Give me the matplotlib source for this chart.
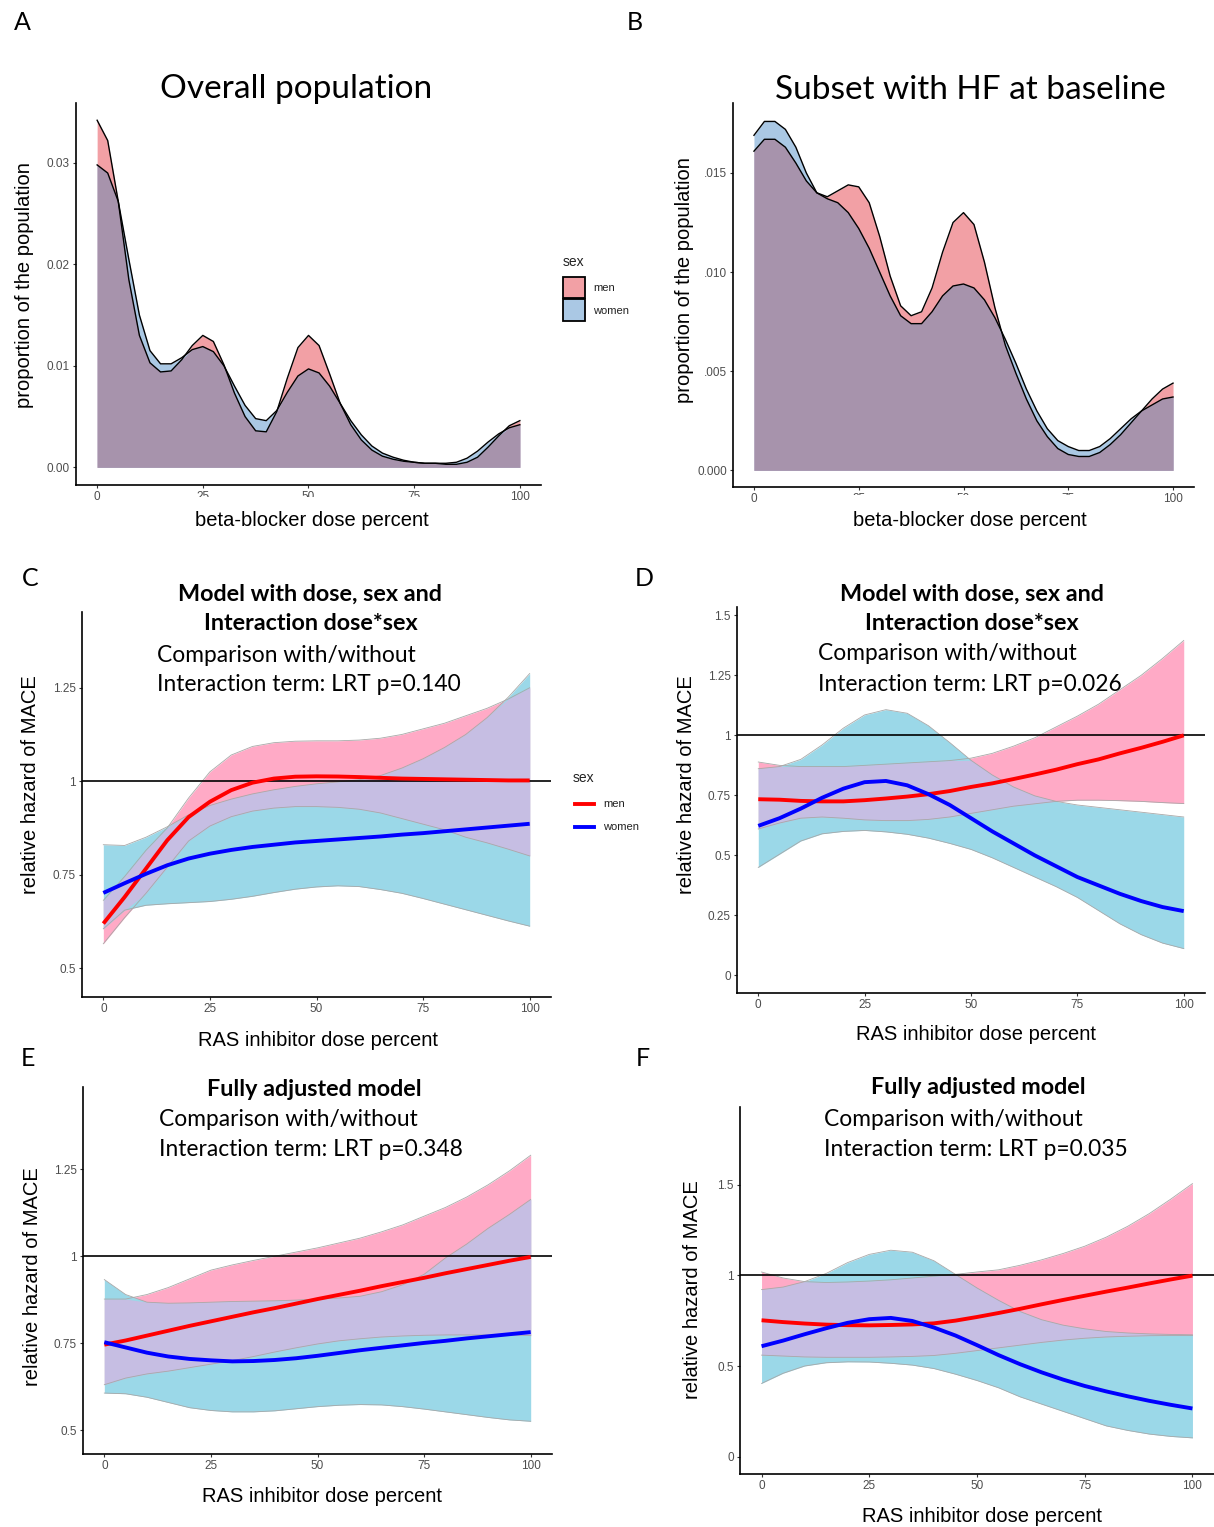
import numpy as np
import matplotlib
matplotlib.use("Agg")
import matplotlib.pyplot as plt
from matplotlib.patches import Rectangle
from matplotlib.lines import Line2D

plt.rcParams['font.family'] = ['Liberation Sans', 'DejaVu Sans']
plt.rcParams['lines.solid_joinstyle'] = 'round'

# ---- data ----
bb_dose = [0, 2.5, 5, 7.5, 10, 12.5, 15, 17.5, 20, 22.5, 25, 27.5, 30, 32.5, 35, 37.5, 40,
           42.5, 45, 47.5, 50, 52.5, 55, 57.5, 60, 62.5, 65, 67.5, 70, 72.5, 75, 77.5, 80,
           82.5, 85, 87.5, 90, 92.5, 95, 97.5, 100]

a_men = [0.0342, 0.0322, 0.0262, 0.0185, 0.0130, 0.0103, 0.0094, 0.0095, 0.0106, 0.0120, 0.0130,
         0.0124, 0.0101, 0.0073, 0.0050, 0.0036, 0.0035, 0.0055, 0.0088, 0.0118, 0.0130, 0.0120,
         0.0092, 0.0063, 0.0042, 0.0027, 0.0017, 0.0011, 0.0008, 0.0006, 0.0005, 0.0004, 0.0004,
         0.0003, 0.0003, 0.0005, 0.0010, 0.0020, 0.0031, 0.0041, 0.0046]
a_women = [0.0298, 0.0290, 0.0262, 0.0205, 0.0150, 0.0115, 0.0102, 0.0102, 0.0108, 0.0116, 0.0119,
           0.0114, 0.0100, 0.0080, 0.0061, 0.0048, 0.0046, 0.0056, 0.0074, 0.0090, 0.0097, 0.0093,
           0.0080, 0.0063, 0.0046, 0.0032, 0.0021, 0.0014, 0.0010, 0.0007, 0.0005, 0.0004, 0.0004,
           0.0004, 0.0005, 0.0009, 0.0016, 0.0025, 0.0033, 0.0039, 0.0042]

b_men = [0.0161, 0.0167, 0.0167, 0.0163, 0.0155, 0.0146, 0.0140, 0.0138, 0.0141, 0.0144, 0.0143,
         0.0135, 0.0118, 0.0098, 0.0083, 0.0078, 0.0080, 0.0092, 0.0110, 0.0125, 0.0130, 0.0124,
         0.0105, 0.0082, 0.0063, 0.0049, 0.0036, 0.0025, 0.0017, 0.0011, 0.0008, 0.0007, 0.0007,
         0.0009, 0.0013, 0.0018, 0.0024, 0.0030, 0.0036, 0.0041, 0.0044]
b_women = [0.0169, 0.0176, 0.0176, 0.0172, 0.0163, 0.0150, 0.0140, 0.0137, 0.0135, 0.0130, 0.0122,
           0.0112, 0.0100, 0.0088, 0.0078, 0.0074, 0.0074, 0.0080, 0.0088, 0.0093, 0.0094, 0.0092,
           0.0086, 0.0077, 0.0066, 0.0054, 0.0041, 0.0030, 0.0021, 0.0015, 0.0012, 0.0010, 0.0010,
           0.0012, 0.0016, 0.0021, 0.0026, 0.0030, 0.0033, 0.0036, 0.0037]

ras_dose = [0, 5, 10, 15, 20, 25, 30, 35, 40, 45, 50, 55, 60, 65, 70, 75, 80, 85, 90, 95, 100]

c_men = [0.619, 0.690, 0.766, 0.842, 0.904, 0.945, 0.976, 0.996, 1.007, 1.012, 1.013,
         1.0125, 1.011, 1.009, 1.007, 1.006, 1.005, 1.004, 1.003, 1.002, 1.002]
c_men_hi = [0.681, 0.745, 0.815, 0.875, 0.955, 1.025, 1.070, 1.093, 1.103, 1.107, 1.108,
            1.108, 1.110, 1.115, 1.125, 1.140, 1.155, 1.175, 1.195, 1.220, 1.250]
c_men_lo = [0.565, 0.635, 0.700, 0.770, 0.840, 0.880, 0.905, 0.920, 0.928, 0.932, 0.932,
            0.930, 0.925, 0.915, 0.900, 0.885, 0.870, 0.850, 0.835, 0.818, 0.800]
c_women = [0.701, 0.727, 0.752, 0.775, 0.793, 0.806, 0.816, 0.824, 0.830, 0.836, 0.840,
           0.844, 0.848, 0.852, 0.857, 0.861, 0.866, 0.871, 0.876, 0.881, 0.886]
c_women_hi = [0.830, 0.828, 0.850, 0.878, 0.910, 0.935, 0.952, 0.966, 0.977, 0.986, 0.993,
              0.998, 1.004, 1.015, 1.035, 1.060, 1.090, 1.125, 1.170, 1.225, 1.288]
c_women_lo = [0.605, 0.655, 0.668, 0.672, 0.675, 0.678, 0.684, 0.692, 0.702, 0.711, 0.717,
              0.720, 0.718, 0.710, 0.700, 0.686, 0.671, 0.656, 0.641, 0.626, 0.612]

d_men = [0.734, 0.732, 0.727, 0.725, 0.725, 0.730, 0.737, 0.745, 0.755, 0.768, 0.785,
         0.800, 0.818, 0.837, 0.857, 0.880, 0.900, 0.925, 0.948, 0.973, 1.000]
d_men_hi = [0.889, 0.875, 0.870, 0.870, 0.870, 0.875, 0.880, 0.885, 0.890, 0.895, 0.905,
            0.925, 0.955, 0.990, 1.035, 1.080, 1.130, 1.190, 1.250, 1.320, 1.395]
d_men_lo = [0.610, 0.635, 0.655, 0.660, 0.655, 0.648, 0.645, 0.645, 0.650, 0.660, 0.675,
            0.690, 0.705, 0.715, 0.725, 0.730, 0.730, 0.728, 0.725, 0.720, 0.716]
d_women = [0.623, 0.655, 0.695, 0.740, 0.778, 0.805, 0.810, 0.792, 0.755, 0.710, 0.655,
           0.600, 0.550, 0.500, 0.455, 0.410, 0.375, 0.340, 0.310, 0.285, 0.268]
d_women_hi = [0.861, 0.870, 0.900, 0.960, 1.030, 1.085, 1.107, 1.092, 1.040, 0.970, 0.896,
              0.835, 0.785, 0.748, 0.725, 0.710, 0.700, 0.690, 0.680, 0.670, 0.660]
d_women_lo = [0.450, 0.505, 0.560, 0.590, 0.600, 0.604, 0.598, 0.588, 0.572, 0.550, 0.525,
              0.490, 0.450, 0.410, 0.370, 0.325, 0.270, 0.215, 0.170, 0.135, 0.112]

e_men = [0.746, 0.758, 0.772, 0.786, 0.800, 0.813, 0.826, 0.839, 0.851, 0.864, 0.877,
         0.889, 0.901, 0.914, 0.926, 0.938, 0.951, 0.963, 0.975, 0.987, 0.998]
e_men_hi = [0.877, 0.877, 0.890, 0.910, 0.935, 0.960, 0.975, 0.988, 1.000, 1.012, 1.024,
            1.038, 1.052, 1.070, 1.090, 1.115, 1.140, 1.170, 1.205, 1.245, 1.290]
e_men_lo = [0.631, 0.650, 0.662, 0.670, 0.680, 0.690, 0.700, 0.712, 0.725, 0.737, 0.748,
            0.757, 0.763, 0.768, 0.771, 0.773, 0.774, 0.774, 0.774, 0.774, 0.772]
e_women = [0.753, 0.738, 0.723, 0.712, 0.705, 0.701, 0.698, 0.699, 0.702, 0.707, 0.714,
           0.722, 0.730, 0.737, 0.744, 0.751, 0.757, 0.764, 0.770, 0.776, 0.782]
e_women_hi = [0.933, 0.890, 0.868, 0.865, 0.866, 0.868, 0.870, 0.871, 0.872, 0.874, 0.877,
              0.880, 0.885, 0.898, 0.918, 0.948, 0.995, 1.035, 1.080, 1.120, 1.163]
e_women_lo = [0.607, 0.605, 0.595, 0.580, 0.565, 0.557, 0.553, 0.553, 0.556, 0.562, 0.568,
              0.572, 0.574, 0.573, 0.568, 0.561, 0.553, 0.545, 0.537, 0.530, 0.526]

f_men = [0.752, 0.742, 0.734, 0.728, 0.725, 0.724, 0.726, 0.729, 0.735, 0.750, 0.770,
         0.792, 0.815, 0.840, 0.864, 0.887, 0.910, 0.932, 0.955, 0.977, 0.998]
f_men_hi = [1.018, 0.985, 0.965, 0.960, 0.963, 0.968, 0.975, 0.985, 0.995, 1.005, 1.018,
            1.030, 1.055, 1.085, 1.120, 1.160, 1.210, 1.270, 1.340, 1.420, 1.505]
f_men_lo = [0.560, 0.555, 0.550, 0.548, 0.548, 0.548, 0.550, 0.553, 0.558, 0.570, 0.585,
            0.600, 0.615, 0.630, 0.643, 0.653, 0.660, 0.664, 0.667, 0.668, 0.668]
f_women = [0.609, 0.640, 0.675, 0.708, 0.738, 0.758, 0.765, 0.748, 0.712, 0.668, 0.615,
           0.560, 0.510, 0.465, 0.425, 0.390, 0.360, 0.333, 0.308, 0.286, 0.266]
f_women_hi = [0.921, 0.935, 0.965, 1.010, 1.070, 1.115, 1.138, 1.127, 1.080, 1.005, 0.930,
              0.862, 0.800, 0.755, 0.725, 0.705, 0.690, 0.682, 0.677, 0.674, 0.672]
f_women_lo = [0.404, 0.460, 0.500, 0.518, 0.523, 0.522, 0.515, 0.505, 0.486, 0.455, 0.420,
              0.380, 0.330, 0.290, 0.250, 0.210, 0.170, 0.145, 0.125, 0.112, 0.104]

x_ticks = [0, 25, 50, 75, 100]

# colours
DEN_MEN, DEN_WOMEN, DEN_BOTH = '#F2A0A5', '#AAC8E4', '#A793AC'
RIB_MEN, RIB_WOMEN, RIB_BOTH = '#FFAAC6', '#9BD8E8', '#C6BEE3'
TICK_COL = '#4D4D4D'

W, H = 1214, 1527
fig = plt.figure(figsize=(W / 100, H / 100), dpi=100)


def px_axes(l, t, r, b):
    return fig.add_axes([l / W, 1 - b / H, (r - l) / W, (b - t) / H])


def ftext(x, y, s, **kw):
    kw.setdefault('ha', 'center')
    kw.setdefault('va', 'center')
    fig.text(x / W, 1 - y / H, s, **kw)


def style(ax, ylim, yticks, ylabels):
    ax.set_xlim(-5, 105)
    ax.set_ylim(*ylim)
    ax.set_facecolor('none')
    for s in ['top', 'right']:
        ax.spines[s].set_visible(False)
    for s in ['left', 'bottom']:
        ax.spines[s].set_linewidth(1.2)
        ax.spines[s].set_color('black')
    ax.set_xticks(x_ticks)
    ax.set_xticklabels([str(t) for t in x_ticks])
    ax.set_yticks(yticks)
    ax.set_yticklabels(ylabels)
    ax.tick_params(length=2.5, width=0.8, color='#333333', labelcolor=TICK_COL,
                   labelsize=8.5, pad=2)


def density(ax, men, women):
    men = np.array(men)
    women = np.array(women)
    ax.fill_between(bb_dose, 0, men, color=DEN_MEN, lw=0)
    ax.fill_between(bb_dose, 0, women, color=DEN_WOMEN, lw=0)
    ax.fill_between(bb_dose, 0, np.minimum(men, women), color=DEN_BOTH, lw=0)
    ax.plot(bb_dose, men, color='black', lw=1.0)
    ax.plot(bb_dose, women, color='black', lw=1.0)


def ribbons(ax, m, m_lo, m_hi, w, w_lo, w_hi):
    m_lo, m_hi, w_lo, w_hi = map(np.array, (m_lo, m_hi, w_lo, w_hi))
    ax.fill_between(ras_dose, m_lo, m_hi, color=RIB_MEN, lw=0)
    ax.fill_between(ras_dose, w_lo, w_hi, color=RIB_WOMEN, lw=0)
    lo = np.maximum(m_lo, w_lo)
    hi = np.minimum(m_hi, w_hi)
    ax.fill_between(ras_dose, lo, hi, where=hi > lo, interpolate=True, color=RIB_BOTH, lw=0)
    for b in (m_lo, m_hi, w_lo, w_hi):
        ax.plot(ras_dose, b, color='#A8A8A8', lw=0.6)
    ax.axhline(1, color='black', lw=1.2)
    ax.plot(ras_dose, m, color='#FF0000', lw=2.8, solid_capstyle='butt')
    ax.plot(ras_dose, w, color='#0000FF', lw=2.8, solid_capstyle='butt')


# ---- A ----
axA = px_axes(76, 103, 541, 485)
density(axA, a_men, a_women)
style(axA, (-0.00174, 0.0359), [0, 0.01, 0.02, 0.03], ['0.00', '0.01', '0.02', '0.03'])

# ---- B ----
axB = px_axes(733, 103, 1194, 487)
density(axB, b_men, b_women)
style(axB, (-0.00084, 0.01853), [0, 0.005, 0.010, 0.015], ['0.000', '.005', '.010', '.015'])

# ---- C ----
axC = px_axes(82, 612, 551, 997)
ribbons(axC, c_men, c_men_lo, c_men_hi, c_women, c_women_lo, c_women_hi)
style(axC, (0.4225, 1.4527), [0.5, 0.75, 1, 1.25], ['0.5', '0.75', '1', '1.25'])

# ---- D ----
axD = px_axes(737, 607, 1205, 993)
ribbons(axD, d_men, d_men_lo, d_men_hi, d_women, d_women_lo, d_women_hi)
style(axD, (-0.073, 1.5345), [0, 0.25, 0.5, 0.75, 1, 1.25, 1.5],
      ['0', '0.25', '0.5', '0.75', '1', '1.25', '1.5'])

# ---- E ----
axE = px_axes(83, 1087, 552, 1454)
ribbons(axE, e_men, e_men_lo, e_men_hi, e_women, e_women_lo, e_women_hi)
style(axE, (0.432, 1.486), [0.5, 0.75, 1, 1.25], ['0.5', '0.75', '1', '1.25'])

# ---- F ----
axF = px_axes(740, 1107, 1214, 1474)
ribbons(axF, f_men, f_men_lo, f_men_hi, f_women, f_women_lo, f_women_hi)
style(axF, (-0.095, 1.927), [0, 0.5, 1, 1.5], ['0', '0.5', '1', '1.5'])

# ---- text ----
LAB = dict(fontsize=14.5)
ftext(296, 89, 'Overall population', family='Lato', fontsize=24)
ftext(970, 90, 'Subset with HF at baseline', family='Lato', fontsize=24)
ftext(25, 285, 'proportion of the population', rotation=90, **LAB)
ftext(684, 280, 'proportion of the population', rotation=90, **LAB)
ftext(312, 520, 'beta-blocker dose percent', **LAB)
ftext(970, 520, 'beta-blocker dose percent', **LAB)

for x, y, s in [(31, 785, 'relative hazard of MACE'), (686, 785, 'relative hazard of MACE'),
                (33, 1277, 'relative hazard of MACE'), (692, 1290, 'relative hazard of MACE')]:
    ftext(x, y, s, rotation=90, **LAB)
for x, y in [(318, 1040), (976, 1035), (322, 1497), (982, 1517)]:
    ftext(x, y, 'RAS inhibitor dose percent', **LAB)

SUB = dict(family='Lato', fontsize=16.4)
BOLD = dict(family='Lato', fontsize=16.8, fontweight='bold')
ftext(310, 594, 'Model with dose, sex and', **BOLD)
ftext(311, 624, 'Interaction dose*sex', **BOLD)
ftext(157, 655, 'Comparison with/without', ha='left', **SUB)
ftext(157, 684, 'Interaction term: LRT p=0.140', ha='left', **SUB)

ftext(972, 594, 'Model with dose, sex and', **BOLD)
ftext(972, 624, 'Interaction dose*sex', **BOLD)
ftext(818, 654, 'Comparison with/without', ha='left', **SUB)
ftext(818, 684, 'Interaction term: LRT p=0.026', ha='left', **SUB)

ftext(314, 1089, 'Fully adjusted model', **BOLD)
ftext(159, 1119, 'Comparison with/without', ha='left', **SUB)
ftext(159, 1149, 'Interaction term: LRT p=0.348', ha='left', **SUB)

ftext(978, 1088, 'Fully adjusted model', **BOLD)
ftext(824, 1119, 'Comparison with/without', ha='left', **SUB)
ftext(824, 1149, 'Interaction term: LRT p=0.035', ha='left', **SUB)

for x, y, s in [(22, 22, 'A'), (635, 22, 'B'), (30, 578, 'C'), (644, 578, 'D'),
                (28, 1058, 'E'), (643, 1058, 'F')]:
    ftext(x, y, s, family='Lato', fontsize=18)

# ---- legends ----
ftext(563, 262, 'sex', ha='left', fontsize=10, color='#222222')
fig.add_artist(Rectangle((563 / W, 1 - 298 / H), 22 / W, 21 / H, transform=fig.transFigure,
                         fc=DEN_MEN, ec='black', lw=1.3))
fig.add_artist(Rectangle((563 / W, 1 - 321 / H), 22 / W, 22 / H, transform=fig.transFigure,
                         fc=DEN_WOMEN, ec='black', lw=1.3))
ftext(593, 288, 'men', ha='left', fontsize=8, color='#222222')
ftext(593, 311, 'women', ha='left', fontsize=8, color='#222222')

ftext(573, 778, 'sex', ha='left', fontsize=10, color='#222222')
fig.add_artist(Line2D([575 / W, 594 / W], [1 - 804 / H] * 2, transform=fig.transFigure,
                      color='#FF0000', lw=2.8))
fig.add_artist(Line2D([575 / W, 594 / W], [1 - 827 / H] * 2, transform=fig.transFigure,
                      color='#0000FF', lw=2.8))
ftext(603, 804, 'men', ha='left', fontsize=8, color='#222222')
ftext(603, 827, 'women', ha='left', fontsize=8, color='#222222')

# the composite cuts the middle x tick labels of A and B
fig.add_artist(Rectangle((170 / W, 1 - 508 / H), 300 / W, 11 / H, transform=fig.transFigure,
                         fc='white', ec='none'))
fig.add_artist(Rectangle((830 / W, 1 - 508 / H), 270 / W, 13 / H, transform=fig.transFigure,
                         fc='white', ec='none'))

fig.savefig('out.png', dpi=100, facecolor='white')
